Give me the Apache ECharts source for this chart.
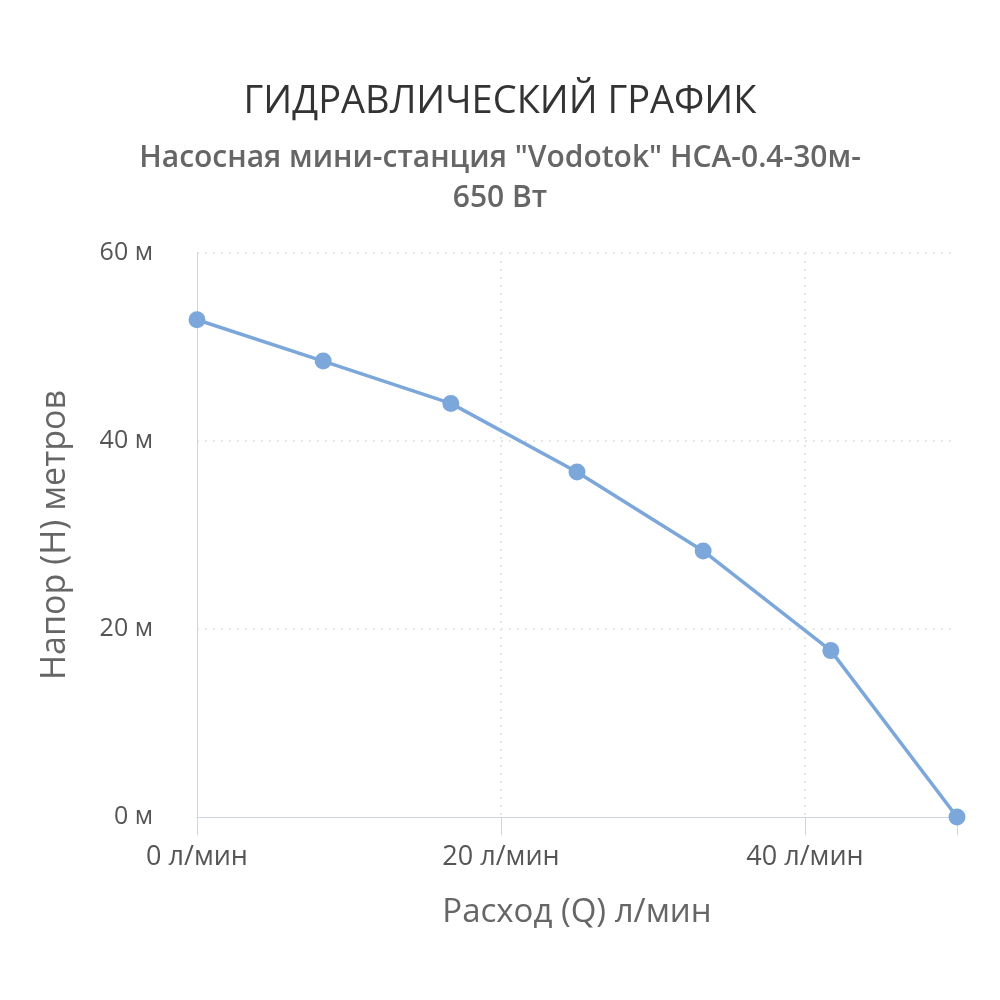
<!DOCTYPE html>
<html>
<head>
<meta charset="utf-8">
<script src="https://cdn.jsdelivr.net/npm/echarts@6/dist/echarts.min.js"></script>
<style>
  html, body { margin: 0; padding: 0; background: #fff; }
  #chart { width: 1000px; height: 1000px; }
</style>
</head>
<body>
<div id="chart"></div>
<script>
// pump curve: flow (л/мин) vs head (м)
const flowValues = [0, 8.3, 16.7, 25, 33.3, 41.7, 50];
const headValues = [52.9, 48.5, 44.0, 36.7, 28.3, 17.7, 0];
const xTicks = [0, 20, 40];
const yTicks = [0, 20, 40, 60];

const titleText = 'ГИДРАВЛИЧЕСКИЙ ГРАФИК';
const subtitleText = 'Насосная мини-станция "Vodotok" НСА-0.4-30м-\n650 Вт';

const chart = echarts.init(document.getElementById('chart'), null, { renderer: 'canvas' });

const font = '"Open Sans", "Noto Sans", sans-serif';
const points = flowValues.map(function (q, i) { return [q, headValues[i]]; });

chart.setOption({
  animation: false,
  backgroundColor: '#ffffff',
  title: [{
    text: titleText,
    left: 'center',
    top: 78,
    textStyle: { fontFamily: font, fontSize: 38, fontWeight: 'normal', color: '#333333' }
  }, {
    text: subtitleText,
    left: 'center',
    top: 133,
    textStyle: { fontFamily: font, fontSize: 30, fontWeight: 600, color: '#666666', lineHeight: 40 }
  }],
  grid: { left: 197, right: 43, top: 253, bottom: 183 },
  xAxis: {
    type: 'value',
    min: 0,
    max: 50,
    interval: 20,
    name: 'Расход (Q) л/мин',
    nameLocation: 'middle',
    nameGap: 79,
    nameTextStyle: { fontFamily: font, fontSize: 33, color: '#666666' },
    axisLine: { show: true, lineStyle: { color: '#ccd6eb', width: 1 } },
    axisTick: { show: true, length: 18, lineStyle: { color: '#ccd6eb' } },
    axisLabel: {
      fontFamily: font, fontSize: 27, color: '#555555', margin: 27,
      customValues: xTicks,
      formatter: function (v) { return v + ' л/мин'; }
    },
    splitLine: {
      show: true, showMinLine: false, showMaxLine: false,
      lineStyle: { color: '#e6e6e6', type: [2, 6], width: 2 }
    }
  },
  yAxis: {
    type: 'value',
    min: 0,
    max: 60,
    interval: 20,
    offset: 7,
    name: 'Напор (Н) метров',
    nameLocation: 'middle',
    nameGap: 118,
    nameTextStyle: { fontFamily: font, fontSize: 34, color: '#666666' },
    axisLine: { show: true, lineStyle: { color: '#ccd6eb', width: 1 } },
    axisTick: { show: false },
    axisLabel: {
      fontFamily: font, fontSize: 25, color: '#555555', margin: 37,
      customValues: yTicks,
      formatter: function (v) { return v + ' м'; }
    },
    splitLine: {
      show: true, showMinLine: false,
      lineStyle: { color: '#e6e6e6', type: [2, 6], width: 2 }
    }
  },
  series: [{
    type: 'line',
    data: points,
    symbol: 'circle',
    symbolSize: 17,
    lineStyle: { color: '#7ba7da', width: 3.5 },
    itemStyle: { color: '#7ba7da' }
  }]
});
</script>
</body>
</html>
